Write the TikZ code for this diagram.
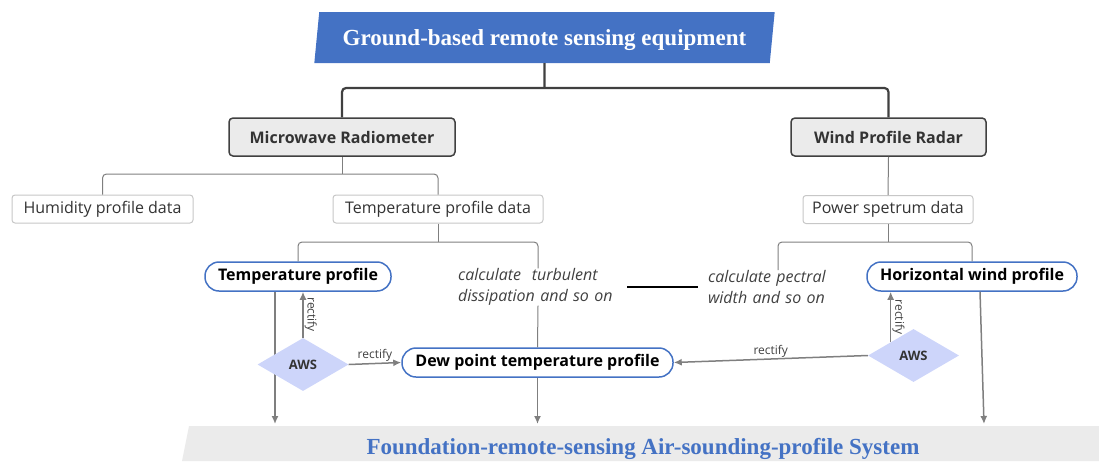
\documentclass[tikz,border=0pt]{standalone}
\usepackage{fontspec}
\setmainfont{Liberation Serif}
\setsansfont{Open Sans}
\usetikzlibrary{shapes.geometric,arrows.meta}
\definecolor{hdblue}{HTML}{4472C4}
\definecolor{awsfill}{HTML}{CDD5FA}
\definecolor{boxgray}{HTML}{EBEBEB}
\definecolor{linedark}{HTML}{404040}
\definecolor{linegray}{HTML}{7F7F7F}
\definecolor{txtdark}{HTML}{333333}
\newcommand{\sz}[2]{\fontsize{#1}{#2}\selectfont}

\begin{document}
\begin{tikzpicture}[x=1pt,y=-1pt,
  devbox/.style={draw=linedark,line width=1.5pt,fill=boxgray,rounded corners=4pt,minimum height=38pt,inner sep=0pt,font=\sffamily\bfseries\sz{16}{20},text=txtdark},
  databox/.style={draw=black!22,line width=1pt,fill=white,rounded corners=3pt,minimum height=28pt,inner sep=0pt,font=\sffamily\sz{16}{20},text=txtdark},
  pill/.style={draw=hdblue,line width=1.5pt,fill=white,rounded corners=14pt,minimum height=29pt,inner sep=0pt,font=\sffamily\bfseries\sz{16}{20},text=black},
  aws/.style={diamond,fill=awsfill,minimum width=91pt,minimum height=53pt,inner sep=0pt,aspect=1.72,font=\sffamily\bfseries\sz{13}{15},text=txtdark},
  remark/.style={align=left,text width=#1,inner sep=0pt,font=\sffamily\itshape\sz{16}{21},text=linedark},
  trunk/.style={draw=linedark,line width=2.2pt,rounded corners=4pt},
  twig/.style={draw=linegray,line width=1pt,rounded corners=4pt},
  flow/.style={draw=linegray,line width=1.5pt,-{Latex[length=8pt,width=7pt]}},
  fixlabel/.style={font=\sffamily\sz{12}{14},text=linedark,inner sep=1pt}
]
\useasboundingbox (0,0) rectangle (1099,461);

% header and footer bars
\node[trapezium,trapezium left angle=74.6,trapezium right angle=105.4,trapezium stretches=true,
  minimum width=463pt,minimum height=51pt,inner sep=0pt,fill=hdblue,text=white,text depth=0pt,
  font=\bfseries\sz{23}{26}] (top) at (544.5,37.5) {Ground-based remote sensing equipment};
\fill[boxgray] (189,426) -- (1099,426) -- (1099,461) -- (182,461) -- cycle;
\node[font=\bfseries\sz{23}{26},text=hdblue,inner sep=0pt] (sys) at (643,449) {Foundation-remote-sensing Air-sounding-profile System};

% devices and data
\node[devbox,minimum width=226pt] (mw) at (342,137) {Microwave Radiometer};
\node[devbox,minimum width=195pt] (wpr) at (888.5,137) {Wind Profile Radar};
\node[databox,minimum width=181pt] (hum) at (102.5,209) {Humidity profile data};
\node[databox,minimum width=210pt] (tpd) at (438,209) {Temperature profile data};
\node[databox,minimum width=170pt] (psd) at (888,209.5) {Power spetrum data};

% profiles
\node[pill,minimum width=186pt] (tp) at (298,276.5) {Temperature profile};
\node[pill,minimum width=210pt] (hwp) at (972,276.5) {Horizontal wind profile};
\node[pill,minimum width=271pt] (dew) at (537.5,362.5) {Dew point temperature profile};
\node[remark=160pt] (ctd) at (538,287) {calculate~ turbulent\\dissipation and so on};
\node[remark=140pt] (cpw) at (778,287) {calculate pectral\\width and so on};

\coordinate (j1) at (544.5,88);
\coordinate (j2) at (342,174);
\coordinate (j3) at (438,242);
\coordinate (j4) at (888,242);
\coordinate (floor) at (0,424);

% tree
\draw[trunk] (top.south) -- (j1);
\draw[trunk] (mw.north) |- (j1) -| (wpr.north);
\draw[twig] (mw.south) -- (j2);
\draw[twig] (hum.north) |- (j2) -| (tpd.north);
\draw[twig] (wpr.south) -- (psd.north);
\draw[twig] (tpd.south) -- (j3);
\draw[twig] (tp.north) |- (j3) -| (ctd.north);
\draw[twig] (ctd.south) -- (dew.north);
\draw[twig] (psd.south) -- (j4);
\draw[twig] (cpw.north) |- (j4) -| (hwp.north);
\draw[line width=1.5pt,black] ([xshift=9pt]ctd.east) -- ([xshift=-10pt]cpw.west);

% outputs
\draw[flow] ([xshift=-23pt]tp.south) -- ([xshift=-23pt]tp.south |- floor);
\draw[flow] (dew.south) -- (dew.south |- floor);
\draw[flow] ([xshift=8pt]hwp.south) -- ([xshift=12pt]hwp.south |- floor);

% corrections
\node[aws] (awsl) at (303,364.5) {AWS};
\node[aws] (awsr) at (913.5,355.5) {AWS};
\draw[flow] (awsl.north) -- node[fixlabel,rotate=-90,anchor=south] {rectify} (awsl.north |- tp.south);
\draw[flow] (awsl.east) -- node[fixlabel,above] {rectify} (dew.west);
\draw[flow] (awsr.west) -- node[fixlabel,above] {rectify} (dew.east);
\draw[flow] (awsr.north west) -- node[fixlabel,rotate=-90,anchor=south] {rectify} (awsr.north west |- hwp.south);
\end{tikzpicture}
\end{document}
